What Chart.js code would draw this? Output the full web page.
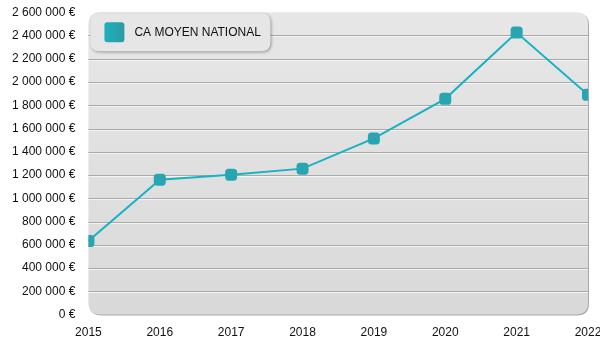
<!DOCTYPE html>
<html>
<head>
<meta charset="utf-8">
<script src="https://cdn.jsdelivr.net/npm/chart.js@4"></script>
<style>
  html, body { margin: 0; padding: 0; background: #fff; }
  #wrap { width: 600px; height: 350px; }
</style>
</head>
<body>
<div id="wrap"><canvas id="caChart"></canvas></div>
<script>
  // Données
  const annees = ['2015', '2016', '2017', '2018', '2019', '2020', '2021', '2022'];
  const caMoyen = [632000, 1160000, 1203000, 1255000, 1515000, 1855000, 2425000, 1890000];
  const serieLabel = 'CA MOYEN NATIONAL';

  const teal = '#17b3c3';
  const tealMarker = '#27a5b1';

  function formatEuro(v) {
    return String(Math.round(v)).replace(/\B(?=(\d{3})+(?!\d))/g, ' ') + ' €';
  }

  function roundRect(ctx, x, y, w, h, r) {
    ctx.beginPath();
    ctx.moveTo(x + r, y);
    ctx.lineTo(x + w - r, y);
    ctx.quadraticCurveTo(x + w, y, x + w, y + r);
    ctx.lineTo(x + w, y + h - r);
    ctx.quadraticCurveTo(x + w, y + h, x + w - r, y + h);
    ctx.lineTo(x + r, y + h);
    ctx.quadraticCurveTo(x, y + h, x, y + h - r);
    ctx.lineTo(x, y + r);
    ctx.quadraticCurveTo(x, y, x + r, y);
    ctx.closePath();
  }

  // Fond gris arrondi + lignes de grille avec reflet blanc
  const fondPlugin = {
    id: 'fond',
    beforeDraw(chart) {
      const { ctx, chartArea: a, scales } = chart;
      ctx.save();
      // ombre
      roundRect(ctx, a.left + 1, a.top + 1, a.right - a.left, a.bottom - a.top, 12);
      ctx.fillStyle = '#a8a8a8';
      ctx.fill();
      const g = ctx.createLinearGradient(0, a.top, 0, a.bottom);
      g.addColorStop(0, '#e7e7e7');
      g.addColorStop(1, '#d9d9d9');
      roundRect(ctx, a.left, a.top, a.right - a.left, a.bottom - a.top, 12);
      ctx.fillStyle = g;
      ctx.fill();
      // grille
      const y = scales.y;
      y.ticks.forEach(t => {
        if (t.value === 0 || t.value === y.max) return;
        const py = Math.round(y.getPixelForValue(t.value)) + 0.5;
        ctx.strokeStyle = '#a9a9a9';
        ctx.lineWidth = 1;
        ctx.beginPath(); ctx.moveTo(a.left, py); ctx.lineTo(a.right, py); ctx.stroke();
        ctx.strokeStyle = '#f4f4f4';
        ctx.beginPath(); ctx.moveTo(a.left, py + 1); ctx.lineTo(a.right, py + 1); ctx.stroke();
      });
      ctx.restore();
    }
  };

  // Légende dans une boîte arrondie
  const legendePlugin = {
    id: 'legende',
    afterDatasetsDraw(chart) {
      const { ctx, chartArea: a } = chart;
      const x = a.left + 2, y = a.top + 1, w = 180, h = 38;
      ctx.save();
      ctx.shadowColor = 'rgba(0,0,0,0.35)';
      ctx.shadowBlur = 3;
      ctx.shadowOffsetX = 1;
      ctx.shadowOffsetY = 1;
      roundRect(ctx, x, y, w, h, 9);
      ctx.fillStyle = '#e6e6e6';
      ctx.fill();
      ctx.shadowColor = 'transparent';
      const gq = ctx.createLinearGradient(x + 14, 0, x + 34, 0);
      gq.addColorStop(0, '#1fb0bd');
      gq.addColorStop(1, '#2a9ba6');
      roundRect(ctx, x + 14, y + 9, 20, 20, 3);
      ctx.fillStyle = gq;
      ctx.fill();
      ctx.fillStyle = '#111';
      ctx.font = '12px "Liberation Sans", Arial, sans-serif';
      ctx.textBaseline = 'middle';
      ctx.fillText(serieLabel, x + 44, y + h / 2);
      ctx.restore();
    }
  };

  const caConfig = {
    type: 'line',
    data: {
      labels: annees,
      datasets: [{
        label: serieLabel,
        data: caMoyen,
        borderColor: teal,
        borderWidth: 2,
        tension: 0,
        clip: 0,
        pointStyle: 'rectRounded',
        pointRadius: 7,
        pointHoverRadius: 7,
        pointBackgroundColor: tealMarker,
        pointBorderColor: tealMarker,
        pointBorderWidth: 0
      }]
    },
    options: {
      responsive: true,
      maintainAspectRatio: false,
      animation: false,
      layout: { padding: { top: 0, left: 7, right: 0, bottom: 7 } },
      plugins: {
        legend: { display: false },
        tooltip: { enabled: false }
      },
      scales: {
        x: {
          offset: false,
          grid: { display: false },
          border: { display: false },
          ticks: {
            color: '#111',
            font: { family: '"Liberation Sans", Arial, sans-serif', size: 12 },
            maxRotation: 0,
            padding: 3
          },
          afterFit(scale) {
            scale.paddingRight = 12;
          }
        },
        y: {
          min: 0,
          max: 2600000,
          grid: { display: false },
          border: { display: false },
          ticks: {
            stepSize: 200000,
            color: '#111',
            font: { family: '"Liberation Sans", Arial, sans-serif', size: 12 },
            padding: 5,
            callback: v => formatEuro(v)
          }
        }
      }
    },
    plugins: [fondPlugin, legendePlugin]
  };

  new Chart(document.getElementById('caChart'), caConfig);
</script>
</body>
</html>
